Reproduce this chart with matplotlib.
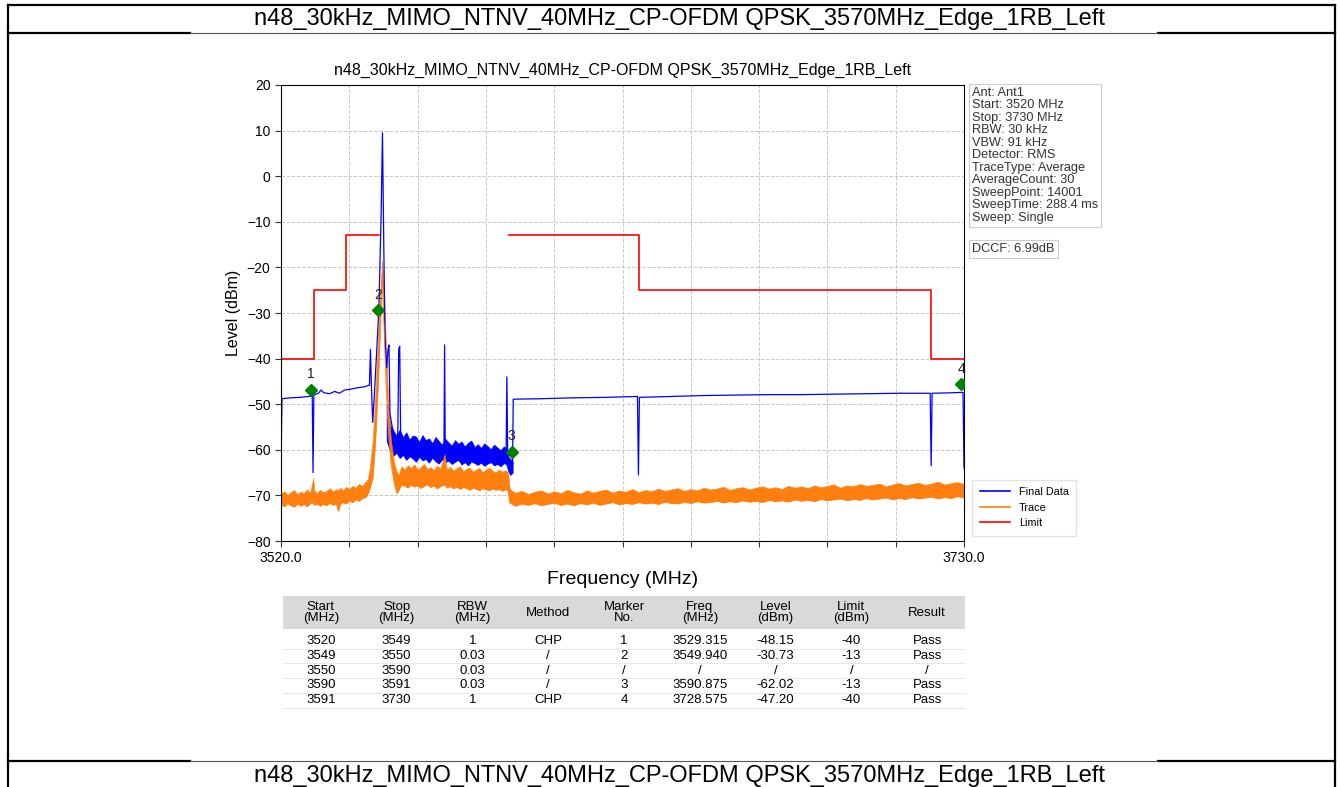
import numpy as np
import matplotlib
matplotlib.use('Agg')
import matplotlib.pyplot as plt
from matplotlib.lines import Line2D
from matplotlib.patches import Rectangle

W, H = 1340, 787

def fx(x):
    return x / W

def fy(y):
    return 1 - y / H

page_title = 'n48_30kHz_MIMO_NTNV_40MHz_CP-OFDM QPSK_3570MHz_Edge_1RB_Left'

# limit line (steps-post, nan = gap)
limit_freq = [3520, 3530, 3540, 3550, 3590, 3630, 3720, 3730]
limit_level = [-40, -25, -13, np.nan, -13, -25, -40, -40]

# final data (blue) main line
blue_freq = [3520.0, 3520.3, 3523.0, 3526.0, 3529.6, 3529.85, 3530.1, 3531.5, 3532.3, 3533.2,
             3535.0, 3536.5, 3538.0, 3539.5, 3541.5, 3543.5, 3545.5, 3547.2, 3547.5, 3547.8,
             3548.2, 3548.7, 3549.3, 3550.1, 3550.8, 3551.2, 3551.6, 3552.0, 3552.5, 3552.9,
             3553.2, 3553.5, 3554.2, 3555.0, 3555.9, 3556.2, 3556.5, 3556.8, 3560.0, 3570.1,
             3570.3, 3570.5, 3580.0, 3589.2, 3589.45, 3589.7, 3590.0, 3590.6, 3591.2, 3591.4,
             3600.0, 3610.0, 3620.0, 3629.6, 3629.9, 3630.2, 3640.0, 3650.0, 3660.0, 3670.0,
             3680.0, 3690.0, 3700.0, 3710.0, 3719.6, 3719.9, 3720.2, 3726.0, 3729.7, 3730.0]
blue_level = [-64.0, -48.8, -48.6, -48.5, -48.2, -65.0, -48.0, -47.6, -46.9, -47.5,
              -47.7, -47.2, -47.6, -46.9, -46.7, -46.4, -46.2, -45.8, -38.0, -46.0,
              -54.0, -48.0, -40.0, -29.0, -8.0, 9.5, -15.0, -36.0, -42.0, -38.0,
              -37.0, -52.0, -55.0, -57.0, -57.5, -38.0, -37.3, -58.0, -59.5, -60.5,
              -37.0, -60.5, -61.0, -61.5, -44.0, -61.0, -63.0, -64.5, -63.5, -48.9,
              -48.8, -48.6, -48.5, -48.3, -65.5, -48.5, -48.3, -48.1, -48.0, -47.9,
              -47.9, -47.8, -47.7, -47.6, -47.6, -63.5, -47.6, -47.5, -47.4, -64.0]

# final data noisy band (upper / lower edge)
bband_freq = [3552.5, 3553.5, 3554.5, 3555.5, 3556.5, 3557.5, 3558.5, 3559.5, 3560.5, 3561.5,
              3562.5, 3563.5, 3564.5, 3565.5, 3566.5, 3567.5, 3568.5, 3569.5, 3570.5, 3571.5,
              3572.5, 3573.5, 3574.5, 3575.5, 3576.5, 3577.5, 3578.5, 3579.5, 3580.5, 3581.5,
              3582.5, 3583.5, 3584.5, 3585.5, 3586.5, 3587.5, 3588.5, 3589.3, 3589.8, 3590.5,
              3591.2]
bband_hi = [-50.0, -54.5, -55.8, -56.9, -55.6, -57.3, -56.2, -57.8, -56.9, -57.1,
            -58.3, -56.8, -57.9, -57.5, -58.6, -57.2, -58.1, -58.9, -57.6, -58.4,
            -59.1, -57.9, -58.7, -58.2, -59.3, -58.5, -58.0, -59.4, -58.8, -59.6,
            -58.6, -59.2, -59.9, -58.9, -59.5, -60.1, -59.3, -59.6, -61.5, -62.0,
            -62.5]
bband_lo = [-58.0, -60.2, -61.3, -60.6, -61.8, -61.1, -62.2, -61.4, -61.9, -62.6,
            -61.5, -62.3, -62.0, -62.8, -61.7, -62.5, -63.0, -62.1, -62.7, -62.4,
            -63.1, -62.6, -62.2, -63.2, -62.7, -63.4, -62.5, -62.9, -63.3, -62.8,
            -63.5, -63.0, -62.7, -63.4, -63.1, -63.6, -62.9, -63.2, -64.5, -65.5,
            -65.0]

# trace (orange) band
or_freq = [3520, 3521, 3522, 3523, 3524, 3525, 3526, 3527, 3528, 3529,
           3529.9, 3530.2, 3531, 3532, 3533, 3534, 3535, 3536, 3537, 3537.6,
           3538.2, 3539, 3540, 3541, 3542, 3543, 3544, 3545, 3546, 3546.7,
           3547.3, 3548.2, 3549.0, 3549.8, 3550.5, 3551.1, 3551.7, 3552.3, 3553.0, 3553.8,
           3554.8, 3555.6, 3556.2, 3557, 3558, 3559, 3560, 3561, 3562, 3563,
           3564, 3565, 3566, 3567, 3568, 3569, 3570.3, 3571, 3572, 3573,
           3574, 3575, 3576, 3577, 3578, 3579, 3580, 3581, 3582, 3583,
           3584, 3585, 3586, 3587, 3588, 3589, 3589.8, 3590.3, 3592, 3594,
           3596, 3598, 3600, 3602, 3604, 3606, 3608, 3610, 3612, 3614,
           3616, 3618, 3620, 3622, 3624, 3626, 3628, 3630, 3632, 3634,
           3636, 3638, 3640, 3642, 3644, 3646, 3648, 3650, 3652, 3654,
           3656, 3658, 3660, 3662, 3664, 3666, 3668, 3670, 3672, 3674,
           3676, 3678, 3680, 3682, 3684, 3686, 3688, 3690, 3692, 3694,
           3696, 3698, 3700, 3702, 3704, 3706, 3708, 3710, 3712, 3714,
           3716, 3718, 3720, 3722, 3724, 3726, 3728, 3730]
or_hi = [-69.6, -69.1, -69.9, -69.3, -68.8, -69.7, -69.2, -69.5, -68.7, -69.4,
         -66.2, -68.9, -69.5, -68.8, -69.3, -69.0, -68.4, -69.2, -68.6, -68.9,
         -68.3, -68.9, -68.1, -68.6, -67.9, -68.3, -67.5, -67.9, -67.0, -66.4,
         -64.0, -58.0, -48.0, -36.0, -26.0, -18.5, -26.0, -38.0, -50.0, -58.0,
         -63.0, -64.8, -65.5, -63.6, -64.3, -63.4, -64.0, -63.2, -64.4, -63.7,
         -63.1, -64.2, -63.8, -64.5, -63.5, -64.1, -61.0, -64.4, -63.7, -64.6,
         -64.0, -63.6, -64.7, -64.2, -63.9, -64.8, -64.3, -64.0, -64.9, -64.4,
         -63.9, -64.6, -65.0, -64.3, -64.8, -64.5, -64.9, -68.6, -69.4, -69.0,
         -69.7, -69.2, -68.9, -69.6, -69.1, -69.5, -68.8, -69.3, -69.6, -68.9,
         -69.4, -69.0, -68.7, -69.4, -68.9, -69.2, -68.6, -69.3, -68.8, -69.1,
         -68.5, -69.0, -68.7, -68.4, -69.0, -68.6, -68.9, -68.3, -68.7, -68.5,
         -68.1, -68.8, -68.4, -68.2, -68.7, -68.3, -68.0, -68.5, -68.2, -68.6,
         -67.9, -68.3, -68.0, -68.4, -67.8, -68.2, -67.9, -67.6, -68.3, -67.8,
         -68.0, -67.5, -67.9, -67.7, -67.4, -68.0, -67.6, -67.3, -67.8, -67.5,
         -67.2, -67.7, -67.4, -67.0, -67.6, -67.3, -67.1, -67.5]
or_lo = [-72.0, -72.4, -71.7, -72.2, -72.5, -71.8, -72.3, -71.9, -72.4, -71.7,
         -71.6, -72.1, -71.8, -72.3, -71.9, -72.2, -71.6, -72.1, -71.8, -73.4,
         -71.9, -71.5, -71.8, -71.2, -71.5, -70.9, -71.2, -70.6, -70.4, -69.6,
         -68.5, -66.0, -58.0, -46.0, -33.0, -21.5, -34.0, -46.0, -56.0, -63.0,
         -67.5, -69.5, -68.8, -67.6, -67.9, -68.3, -67.7, -68.1, -67.8, -68.4,
         -67.9, -67.6, -68.2, -67.8, -68.5, -68.0, -67.6, -68.3, -68.0, -68.5,
         -68.1, -68.6, -68.2, -68.4, -68.8, -68.3, -68.6, -68.9, -68.4, -68.7,
         -68.9, -68.5, -68.8, -68.6, -69.0, -68.7, -69.0, -71.6, -72.3, -71.8,
         -72.1, -71.7, -72.2, -71.9, -71.6, -72.1, -71.8, -72.2, -71.7, -72.0,
         -71.6, -72.1, -71.8, -71.5, -72.0, -71.7, -71.9, -71.5, -71.8, -71.6,
         -71.9, -71.4, -71.7, -71.8, -71.4, -71.7, -71.3, -71.6, -71.5, -71.2,
         -71.6, -71.3, -71.5, -71.1, -71.4, -71.2, -71.5, -71.0, -71.3, -71.1,
         -71.4, -70.9, -71.2, -71.0, -71.3, -70.8, -71.1, -70.9, -70.7, -71.1,
         -70.8, -71.0, -70.6, -70.9, -70.7, -70.5, -70.9, -70.6, -70.8, -70.4,
         -70.7, -70.5, -70.3, -70.7, -70.4, -70.6, -70.2, -70.5]

# markers as shown on the plot
mk_no = ['1', '2', '3', '4']
mk_freq = [3529.3, 3549.9, 3590.9, 3729.2]
mk_level = [-46.8, -29.4, -60.4, -45.6]

info_lines = ['Ant: Ant1', 'Start: 3520 MHz', 'Stop: 3730 MHz', 'RBW: 30 kHz', 'VBW: 91 kHz',
              'Detector: RMS', 'TraceType: Average', 'AverageCount: 30', 'SweepPoint: 14001',
              'SweepTime: 288.4 ms', 'Sweep: Single']
dccf_text = 'DCCF: 6.99dB'

# result table
tbl_head = ['Start\n(MHz)', 'Stop\n(MHz)', 'RBW\n(MHz)', 'Method', 'Marker\nNo.',
            'Freq\n(MHz)', 'Level\n(dBm)', 'Limit\n(dBm)', 'Result']
tbl_start = ['3520', '3549', '3550', '3590', '3591']
tbl_stop = ['3549', '3550', '3590', '3591', '3730']
tbl_rbw = ['1', '0.03', '0.03', '0.03', '1']
tbl_method = ['CHP', '/', '/', '/', 'CHP']
tbl_marker = ['1', '2', '/', '3', '4']
tbl_freq = ['3529.315', '3549.940', '/', '3590.875', '3728.575']
tbl_level = ['-48.15', '-30.73', '/', '-62.02', '-47.20']
tbl_limit = ['-40', '-13', '/', '-13', '-40']
tbl_result = ['Pass', 'Pass', '/', 'Pass', 'Pass']

plt.rcParams['font.family'] = ['Liberation Sans', 'DejaVu Sans']

fig = plt.figure(figsize=(W / 100, H / 100), dpi=100)

# page frame and title rows
frame_kw = dict(color='black', lw=1.6, transform=fig.transFigure)
fig.add_artist(Line2D([fx(8), fx(1335)], [fy(5), fy(5)], **frame_kw))
fig.add_artist(Line2D([fx(8), fx(8)], [fy(5), fy(787)], **frame_kw))
fig.add_artist(Line2D([fx(1335), fx(1335)], [fy(5), fy(787)], **frame_kw))
for yy in (33, 761):
    fig.add_artist(Line2D([fx(8), fx(190)], [fy(yy), fy(yy)], **frame_kw))
    fig.add_artist(Line2D([fx(1158), fx(1335)], [fy(yy), fy(yy)], **frame_kw))
    fig.add_artist(Line2D([fx(190), fx(1158)], [fy(yy), fy(yy)], color='#555555', lw=0.8,
                          transform=fig.transFigure))
fig.text(fx(680), fy(19), page_title, ha='center', va='center', fontsize=17)
fig.text(fx(680), fy(776), page_title, ha='center', va='center', fontsize=17)

# main chart
ax = fig.add_axes([fx(281), fy(541), fx(964) - fx(281), fy(85) - fy(541)])
ax.fill_between(bband_freq, bband_lo, bband_hi, color='blue', lw=0.6)
ax.plot(blue_freq, blue_level, color='blue', lw=0.9, label='Final Data')
ax.fill_between(or_freq, or_lo, or_hi, color='#ff7f0e', lw=0.4)
ax.plot(or_freq, or_lo, color='#ff7f0e', lw=0.5)
ax.plot(limit_freq, limit_level, color='red', lw=1.2, drawstyle='steps-post', label='Limit')
ax.plot(mk_freq, mk_level, 'D', color='green', ms=6, zorder=5)
for n, f, l in zip(mk_no, mk_freq, mk_level):
    ax.annotate(n, (f, l), xytext=(0, 6), textcoords='offset points', ha='center',
                va='bottom', fontsize=10, color='#222222')

ax.set_xlim(3520, 3730)
ax.set_ylim(-80, 20)
xt = np.linspace(3520, 3730, 11)
ax.set_xticks(xt)
ax.set_xticklabels(['3520.0'] + [''] * 9 + ['3730.0'])
ax.set_yticks(np.arange(-80, 21, 10))
ax.tick_params(labelsize=10, length=4, color='#333333')
ax.grid(True, color='#c8c8c8', linestyle='--', lw=0.7)
ax.set_axisbelow(True)
ax.set_title(page_title, fontsize=11.5, pad=7)
ax.set_xlabel('Frequency (MHz)', fontsize=14, labelpad=4)
ax.set_ylabel('Level (dBm)', fontsize=11.5, labelpad=4)

h_blue = Line2D([], [], color='blue', lw=1.2)
h_or = Line2D([], [], color='#ff7f0e', lw=1.2)
h_red = Line2D([], [], color='red', lw=1.2)
ax.legend([h_blue, h_or, h_red], ['Final Data', 'Trace', 'Limit'], loc='lower left',
          bbox_to_anchor=(1.004, 0.0), fontsize=7.8, frameon=True, fancybox=False,
          edgecolor='#dddddd', handlelength=2.8, borderpad=0.7)

# side info boxes
fig.text(fx(972), fy(87), '\n'.join(info_lines), ha='left', va='top', fontsize=9.2,
         color='#333333', linespacing=1.05,
         bbox=dict(boxstyle='square,pad=0.25', fc='white', ec='#cccccc', lw=0.8))
fig.text(fx(972), fy(249), dccf_text, ha='left', va='center', fontsize=9.2, color='#333333',
         bbox=dict(boxstyle='square,pad=0.25', fc='white', ec='#cccccc', lw=0.8))

# result table
t_left, t_right = 283, 965
col_w = (t_right - t_left) / len(tbl_head)
fig.add_artist(Rectangle((fx(t_left), fy(629)), fx(t_right) - fx(t_left), fy(596) - fy(629),
                         transform=fig.transFigure, color='#d9d9d9', lw=0))
row_y = [641, 656, 670.5, 685, 700]
cols = [tbl_start, tbl_stop, tbl_rbw, tbl_method, tbl_marker, tbl_freq, tbl_level,
        tbl_limit, tbl_result]
for i, head in enumerate(tbl_head):
    cx = fx(t_left + (i + 0.5) * col_w)
    fig.text(cx, fy(612.5), head, ha='center', va='center', fontsize=9.5, linespacing=0.95)
    for j, val in enumerate(cols[i]):
        fig.text(cx, fy(row_y[j]), val, ha='center', va='center', fontsize=9.5)
for yy in (648.5, 663, 678, 692.5, 708):
    fig.add_artist(Line2D([fx(t_left), fx(t_right)], [fy(yy), fy(yy)], color='#e4e4e4', lw=0.6,
                          transform=fig.transFigure))

fig.savefig('out.png', dpi=100)
